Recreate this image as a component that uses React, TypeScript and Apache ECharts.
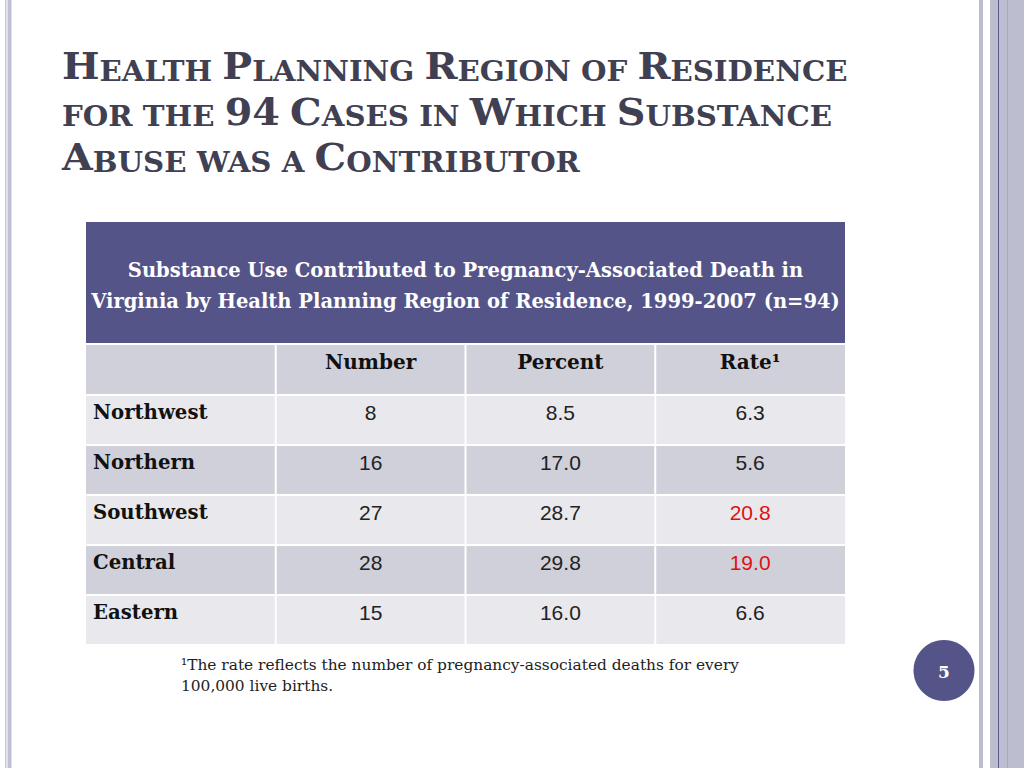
import React, { useEffect, useRef } from "react";
import * as echarts from "echarts";

const titleLines = [
  "Health Planning Region of Residence",
  "for the 94 Cases in Which Substance",
  "Abuse was a Contributor",
];
const tableTitle = [
  "Substance Use Contributed to Pregnancy-Associated Death in",
  "Virginia by Health Planning Region of Residence, 1999-2007 (n=94)",
];
const columns = ["Number", "Percent", "Rate\u00B9"];
const regions = ["Northwest", "Northern", "Southwest", "Central", "Eastern"];
const numbers = [8, 16, 27, 28, 15];
const percents = [8.5, 17.0, 28.7, 29.8, 16.0];
const rates = [6.3, 5.6, 20.8, 19.0, 6.6];
const rateHighlighted = [false, false, true, true, false];
const footnote = [
  "\u00B9The rate reflects the number of pregnancy-associated deaths for every",
  "100,000 live births.",
];
const pageNumber = "5";

const SERIF = "'DejaVu Serif', serif";
const SANS = "'Liberation Sans', Arial, sans-serif";
const PURPLE = "#545488";
const DARK_ROW = "#d0d0da";
const LIGHT_ROW = "#e8e8ed";

function smallCaps(s: string): string {
  let out = "";
  let i = 0;
  while (i < s.length) {
    const ch = s[i];
    const big = /[A-Z0-9]/.test(ch);
    const small = /[a-z]/.test(ch);
    if (big || small) {
      let j = i;
      while (j < s.length) {
        const c = s[j];
        const b = /[A-Z0-9]/.test(c);
        const sm = /[a-z]/.test(c);
        if ((big && b) || (small && sm)) j++;
        else break;
      }
      const seg = s.slice(i, j).toUpperCase();
      out += big ? `{c|${seg}}` : `{s|${seg}}`;
      i = j;
    } else {
      out += `{s|${ch}}`;
      i++;
    }
  }
  return out;
}

export default function App() {
  const ref = useRef<HTMLDivElement>(null);
  useEffect(() => {
    document.body.style.margin = "0";
    const chart = echarts.init(ref.current!, null, { renderer: "svg" });
    const els: any[] = [];

    // left border
    els.push({ type: "rect", shape: { x: 5, y: 0, width: 1.5, height: 768 }, style: { fill: "#c8c8d8" } });
    els.push({ type: "rect", shape: { x: 7.5, y: 0, width: 4, height: 768 }, style: { fill: "#c0c0d4" } });
    // right border
    els.push({ type: "rect", shape: { x: 979, y: 0, width: 4, height: 768 }, style: { fill: "#bcbcd0" } });
    els.push({ type: "rect", shape: { x: 990, y: 0, width: 34, height: 768 }, style: { fill: "#bdbdd0" } });
    els.push({ type: "rect", shape: { x: 998, y: 0, width: 1, height: 768 }, style: { fill: "#5c5c8c" } });
    els.push({ type: "rect", shape: { x: 1007, y: 0, width: 1, height: 768 }, style: { fill: "#a8a8bf" } });

    // title
    titleLines.forEach((line, i) => {
      els.push({
        type: "text",
        x: 62,
        y: 85 + i * 45.5,
        scaleX: 1.045,
        style: {
          text: smallCaps(line),
          fill: "#404052",
          font: `bold 28px ${SERIF}`,
          verticalAlign: "bottom",
          rich: {
            c: { fontFamily: SERIF, fontWeight: "bold", fontSize: 38, fill: "#404052", verticalAlign: "bottom", lineHeight: 44 },
            s: { fontFamily: SERIF, fontWeight: "bold", fontSize: 28, fill: "#404052", verticalAlign: "bottom", lineHeight: 44 },
          },
        },
      });
    });

    // table
    const x0 = 86, x1 = 845;
    const cw = (x1 - x0) / 4;
    els.push({ type: "rect", shape: { x: x0, y: 222, width: x1 - x0, height: 121 }, style: { fill: PURPLE } });
    tableTitle.forEach((t, i) => {
      els.push({
        type: "text", x: (x0 + x1) / 2, y: 270 + i * 31,
        style: { text: t, fill: "#ffffff", font: `bold 19.5px ${SERIF}`, align: "center", verticalAlign: "middle" },
      });
    });
    const rowTop = (r: number) => 345 + r * 50;
    for (let r = 0; r < 6; r++) {
      const fill = r % 2 === 0 ? DARK_ROW : LIGHT_ROW;
      for (let c = 0; c < 4; c++) {
        els.push({
          type: "rect",
          shape: { x: x0 + c * cw + (c === 0 ? 0 : 1), y: rowTop(r) + (r === 0 ? 0 : 1), width: cw - (c === 0 ? 1 : c === 3 ? 1 : 2), height: r === 0 ? 49 : 48 },
          style: { fill },
        });
      }
    }
    columns.forEach((col, c) => {
      els.push({
        type: "text", x: x0 + (c + 1.5) * cw, y: rowTop(0) + 17,
        style: { text: col, fill: "#111111", font: `bold 20px ${SERIF}`, align: "center", verticalAlign: "middle" },
      });
    });
    regions.forEach((reg, r) => {
      const y = rowTop(r + 1) + 17;
      els.push({
        type: "text", x: 93, y,
        style: { text: reg, fill: "#111111", font: `bold 19.7px ${SERIF}`, align: "left", verticalAlign: "middle" },
      });
      const vals = [String(numbers[r]), percents[r].toFixed(1), rates[r].toFixed(1)];
      vals.forEach((v, c) => {
        els.push({
          type: "text", x: x0 + (c + 1.5) * cw, y: y + 0.5,
          style: {
            text: v,
            fill: c === 2 && rateHighlighted[r] ? "#e01010" : "#222222",
            font: `21px ${SANS}`, align: "center", verticalAlign: "middle",
          },
        });
      });
    });

    // footnote
    footnote.forEach((t, i) => {
      els.push({
        type: "text", x: 181, y: 665 + i * 21,
        style: { text: t, fill: "#222222", font: `15.4px ${SERIF}`, align: "left", verticalAlign: "middle" },
      });
    });

    // page number
    els.push({ type: "circle", shape: { cx: 944, cy: 670.5, r: 30.5 }, style: { fill: PURPLE } });
    els.push({
      type: "text", x: 944, y: 672,
      style: { text: pageNumber, fill: "#ffffff", font: `bold 17px ${SERIF}`, align: "center", verticalAlign: "middle" },
    });

    chart.setOption({ animation: false, backgroundColor: "#ffffff", graphic: { elements: els } });
    return () => chart.dispose();
  }, []);
  return <div ref={ref} style={{ position: "fixed", left: 0, top: 0, width: 1024, height: 768 }} />;
}
